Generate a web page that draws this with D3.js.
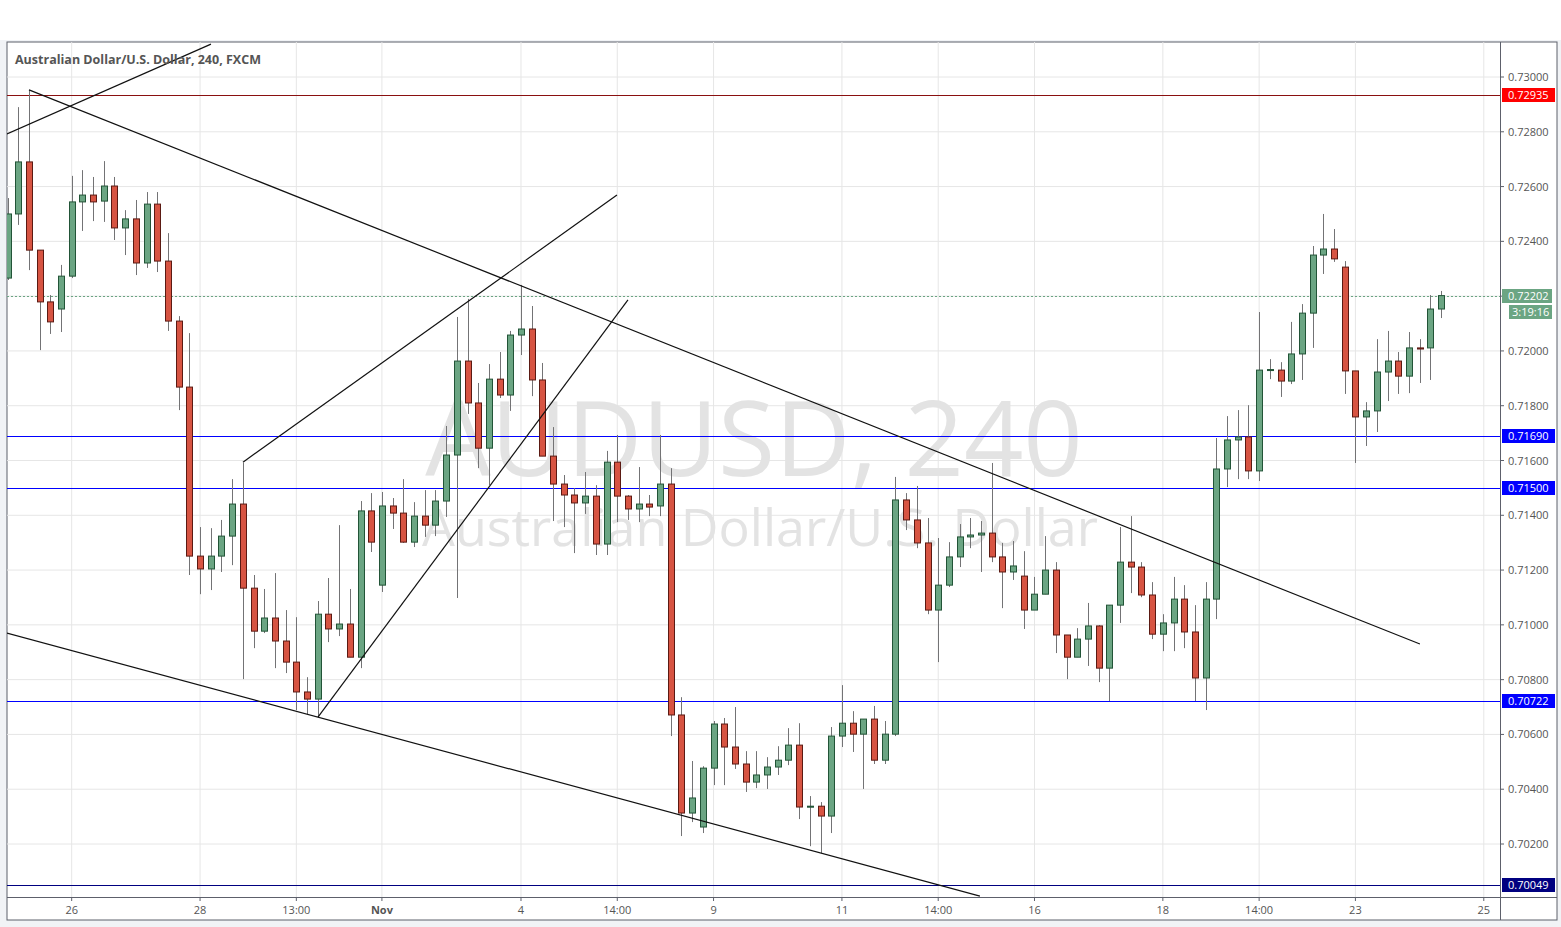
<!DOCTYPE html>
<html>
<head>
<meta charset="utf-8">
<script src="https://cdn.jsdelivr.net/npm/d3@7"></script>
<style>
  body { margin: 0; background: #f1f3f6; }
  svg { display: block; font-family: "Open Sans", "DejaVu Sans", sans-serif; }
</style>
</head>
<body>
<svg id="chart"></svg>
<script>
// 4h candles, [open, high, low, close]
const candles = [
  [0.72266, 0.72558, 0.72259, 0.72500], [0.72500, 0.72890, 0.72460, 0.72690],
  [0.72690, 0.72953, 0.72295, 0.72368], [0.72368, 0.72368, 0.72003, 0.72179],
  [0.72179, 0.72204, 0.72062, 0.72106], [0.72153, 0.72314, 0.72069, 0.72273],
  [0.72273, 0.72639, 0.72266, 0.72544], [0.72544, 0.72660, 0.72438, 0.72569],
  [0.72569, 0.72635, 0.72474, 0.72544], [0.72547, 0.72693, 0.72471, 0.72602],
  [0.72602, 0.72635, 0.72405, 0.72449], [0.72449, 0.72514, 0.72350, 0.72482],
  [0.72482, 0.72551, 0.72277, 0.72321], [0.72321, 0.72580, 0.72303, 0.72536],
  [0.72536, 0.72580, 0.72288, 0.72328], [0.72328, 0.72430, 0.72073, 0.72109],
  [0.72109, 0.72127, 0.71784, 0.71868], [0.71868, 0.72065, 0.71182, 0.71251],
  [0.71251, 0.71357, 0.71112, 0.71204], [0.71204, 0.71353, 0.71127, 0.71251],
  [0.71251, 0.71383, 0.71193, 0.71324], [0.71324, 0.71532, 0.71218, 0.71441],
  [0.71441, 0.71591, 0.70802, 0.71134], [0.71134, 0.71182, 0.70915, 0.70977],
  [0.70977, 0.71131, 0.70970, 0.71025], [0.71025, 0.71189, 0.70842, 0.70941],
  [0.70941, 0.71054, 0.70824, 0.70864], [0.70864, 0.71028, 0.70689, 0.70755],
  [0.70755, 0.70809, 0.70674, 0.70729], [0.70729, 0.71087, 0.70663, 0.71039],
  [0.71039, 0.71171, 0.70937, 0.70985], [0.70985, 0.71364, 0.70959, 0.71003],
  [0.71003, 0.71131, 0.70882, 0.70882], [0.70882, 0.71452, 0.70842, 0.71416],
  [0.71416, 0.71481, 0.71266, 0.71302], [0.71145, 0.71485, 0.71120, 0.71434],
  [0.71434, 0.71463, 0.71350, 0.71408], [0.71408, 0.71532, 0.71299, 0.71302],
  [0.71302, 0.71448, 0.71284, 0.71397], [0.71397, 0.71492, 0.71321, 0.71364],
  [0.71364, 0.71492, 0.71324, 0.71452], [0.71452, 0.71726, 0.71394, 0.71620],
  [0.71620, 0.72124, 0.71098, 0.71963], [0.71963, 0.72190, 0.71770, 0.71810],
  [0.71810, 0.71883, 0.71572, 0.71645], [0.71645, 0.71952, 0.71510, 0.71897],
  [0.71897, 0.71996, 0.71828, 0.71839], [0.71839, 0.72073, 0.71781, 0.72058],
  [0.72058, 0.72241, 0.71985, 0.72080], [0.72080, 0.72164, 0.71835, 0.71894],
  [0.71894, 0.71956, 0.71616, 0.71616], [0.71616, 0.71722, 0.71379, 0.71514],
  [0.71514, 0.71547, 0.71357, 0.71474], [0.71474, 0.71499, 0.71262, 0.71445],
  [0.71445, 0.71558, 0.71405, 0.71470], [0.71470, 0.71510, 0.71255, 0.71295],
  [0.71295, 0.71635, 0.71255, 0.71594], [0.71594, 0.71693, 0.71375, 0.71470],
  [0.71470, 0.71474, 0.71383, 0.71423], [0.71423, 0.71576, 0.71375, 0.71441],
  [0.71441, 0.71474, 0.71397, 0.71430], [0.71434, 0.71693, 0.71397, 0.71514],
  [0.71514, 0.71572, 0.70594, 0.70671], [0.70671, 0.70736, 0.70229, 0.70313],
  [0.70313, 0.70503, 0.70280, 0.70368], [0.70262, 0.70484, 0.70240, 0.70477],
  [0.70477, 0.70649, 0.70415, 0.70638], [0.70638, 0.70660, 0.70415, 0.70554],
  [0.70554, 0.70700, 0.70474, 0.70492], [0.70492, 0.70539, 0.70390, 0.70426],
  [0.70426, 0.70539, 0.70404, 0.70452], [0.70452, 0.70517, 0.70401, 0.70481],
  [0.70481, 0.70557, 0.70452, 0.70506], [0.70506, 0.70623, 0.70488, 0.70561],
  [0.70561, 0.70641, 0.70291, 0.70335], [0.70335, 0.70375, 0.70192, 0.70338],
  [0.70338, 0.70353, 0.70167, 0.70302], [0.70302, 0.70627, 0.70240, 0.70594],
  [0.70594, 0.70780, 0.70554, 0.70641], [0.70641, 0.70685, 0.70536, 0.70601],
  [0.70601, 0.70656, 0.70401, 0.70656], [0.70656, 0.70704, 0.70492, 0.70506],
  [0.70506, 0.70649, 0.70492, 0.70601], [0.70601, 0.71540, 0.70594, 0.71456],
  [0.71456, 0.71481, 0.71346, 0.71383], [0.71383, 0.71507, 0.71280, 0.71299],
  [0.71299, 0.71390, 0.71039, 0.71054], [0.71054, 0.71317, 0.70864, 0.71145],
  [0.71145, 0.71302, 0.71138, 0.71248], [0.71248, 0.71368, 0.71211, 0.71321],
  [0.71321, 0.71390, 0.71280, 0.71328], [0.71328, 0.71379, 0.71193, 0.71335],
  [0.71335, 0.71591, 0.71229, 0.71248], [0.71248, 0.71299, 0.71061, 0.71193],
  [0.71193, 0.71306, 0.71164, 0.71215], [0.71178, 0.71269, 0.70985, 0.71054],
  [0.71054, 0.71175, 0.71054, 0.71112], [0.71112, 0.71324, 0.71112, 0.71200],
  [0.71200, 0.71229, 0.70897, 0.70963], [0.70963, 0.70963, 0.70802, 0.70882],
  [0.70882, 0.70988, 0.70882, 0.70948], [0.70948, 0.71080, 0.70850, 0.70996],
  [0.70996, 0.70999, 0.70791, 0.70842], [0.70842, 0.71072, 0.70722, 0.71072],
  [0.71072, 0.71357, 0.71007, 0.71229], [0.71229, 0.71397, 0.71116, 0.71211],
  [0.71211, 0.71229, 0.71101, 0.71109], [0.71109, 0.71156, 0.70948, 0.70966],
  [0.70966, 0.71039, 0.70904, 0.71007], [0.71007, 0.71175, 0.70904, 0.71094],
  [0.71094, 0.71145, 0.70915, 0.70974], [0.70974, 0.71072, 0.70722, 0.70806],
  [0.70806, 0.71156, 0.70689, 0.71094], [0.71094, 0.71682, 0.71021, 0.71569],
  [0.71569, 0.71762, 0.71503, 0.71675], [0.71675, 0.71784, 0.71532, 0.71686],
  [0.71686, 0.71802, 0.71532, 0.71562], [0.71562, 0.72142, 0.71525, 0.71930],
  [0.71930, 0.71970, 0.71897, 0.71932], [0.71930, 0.71959, 0.71832, 0.71890],
  [0.71890, 0.72106, 0.71879, 0.71989], [0.71989, 0.72171, 0.71894, 0.72138],
  [0.72138, 0.72383, 0.72011, 0.72350], [0.72350, 0.72500, 0.72281, 0.72372],
  [0.72372, 0.72445, 0.72325, 0.72336], [0.72306, 0.72328, 0.71843, 0.71927],
  [0.71927, 0.71927, 0.71591, 0.71759], [0.71759, 0.71813, 0.71653, 0.71781],
  [0.71781, 0.72043, 0.71704, 0.71923], [0.71923, 0.72073, 0.71817, 0.71963],
  [0.71963, 0.71996, 0.71843, 0.71908], [0.71908, 0.72069, 0.71846, 0.72011],
  [0.72011, 0.72043, 0.71883, 0.72007], [0.72011, 0.72204, 0.71894, 0.72153],
  [0.72153, 0.72219, 0.72120, 0.72202]
]

// x-axis labels at candle index
const timeTicks = [
  { i: 6, label: '26' }, { i: 18, label: '28' }, { i: 27, label: '13:00' },
  { i: 35, label: 'Nov', bold: true }, { i: 48, label: '4' }, { i: 57, label: '14:00' },
  { i: 66, label: '9' }, { i: 78, label: '11' }, { i: 87, label: '14:00' },
  { i: 96, label: '16' }, { i: 108, label: '18' }, { i: 117, label: '14:00' },
  { i: 126, label: '23' }, { i: 138, label: '25' }
]

const priceTicks = d3.range(0.702, 0.7301, 0.002)

// horizontal levels
const levels = [
  { p: 0.72935, color: '#8a1010', box: '#ff0000' },
  { p: 0.71690, color: '#0000ff', box: '#0000ff' },
  { p: 0.71500, color: '#0000ff', box: '#0000ff' },
  { p: 0.70722, color: '#0000ff', box: '#0000ff' },
  { p: 0.70049, color: '#000080', box: '#000080' }
]

// trend lines: [index, price] pairs
const trendLines = [
  [[-0.05, 0.72792], [19.02, 0.73120]],
  [[2.01, 0.72953], [132.03, 0.70930]],
  [[-0.05, 0.70970], [90.9, 0.70010]],
  [[22.01, 0.71594], [56.97, 0.72569]],
  [[29.02, 0.70663], [58.0, 0.72186]]
]

const lastPrice = 0.72202
const countdown = '3:19:16'

const W = 1561, H = 927
const pL = 7, pR = 1500, pT = 42, pB = 897, outerR = 1557, outerB = 920

const svg = d3.select('#chart').attr('width', W).attr('height', H)

const x = d3.scaleLinear().domain([0, candles.length - 1]).range([7.5, 1441])
const y = d3.scaleLinear().domain([0.702, 0.730]).range([844, 77])

svg.append('rect').attr('x', 0).attr('y', 0).attr('width', W).attr('height', 40).attr('fill', '#fff')
svg.append('rect').attr('x', pL).attr('y', pT).attr('width', outerR - pL).attr('height', outerB - pT)
  .attr('fill', '#fff').attr('stroke', '#5d606b').attr('stroke-width', 1)

svg.append('defs').append('clipPath').attr('id', 'plot')
  .append('rect').attr('x', pL).attr('y', pT).attr('width', pR - pL).attr('height', pB - pT)

const plot = svg.append('g').attr('clip-path', 'url(#plot)')

// grid
plot.selectAll('.vgrid').data(timeTicks).enter().append('line')
  .attr('x1', d => x(d.i)).attr('x2', d => x(d.i)).attr('y1', pT).attr('y2', pB)
  .attr('stroke', '#e6e6e6')
plot.selectAll('.hgrid').data(priceTicks).enter().append('line')
  .attr('x1', pL).attr('x2', pR).attr('y1', d => y(d)).attr('y2', d => y(d))
  .attr('stroke', '#e6e6e6')

// watermark
plot.append('text').attr('x', 754).attr('y', 476).attr('text-anchor', 'middle')
  .attr('font-size', 104).attr('fill', '#e3e3e3').text('AUDUSD, 240')
plot.append('text').attr('x', 760).attr('y', 546).attr('text-anchor', 'middle')
  .attr('font-size', 52).attr('fill', '#e3e3e3').text('Australian Dollar/U.S. Dollar')

// levels
plot.selectAll('.level').data(levels).enter().append('line')
  .attr('x1', pL).attr('x2', pR).attr('y1', d => Math.round(y(d.p)) + 0.5).attr('y2', d => Math.round(y(d.p)) + 0.5)
  .attr('stroke', d => d.color).attr('stroke-width', 1).attr('shape-rendering', 'crispEdges')

plot.append('line').attr('x1', pL).attr('x2', pR)
  .attr('y1', Math.round(y(lastPrice)) + 0.5).attr('y2', Math.round(y(lastPrice)) + 0.5)
  .attr('stroke', '#6ba583').attr('stroke-dasharray', '2,2')

// candles
const bw = 6
const g = plot.selectAll('.candle').data(candles).enter().append('g')
g.append('line')
  .attr('x1', (d, i) => Math.round(x(i)) + 0.5).attr('x2', (d, i) => Math.round(x(i)) + 0.5)
  .attr('y1', d => y(d[1])).attr('y2', d => y(d[2]))
  .attr('stroke', '#737375')
g.append('rect')
  .attr('x', (d, i) => Math.round(x(i)) - bw / 2 + 0.5)
  .attr('y', d => y(Math.max(d[0], d[3])))
  .attr('width', bw)
  .attr('height', d => Math.max(1, Math.abs(y(d[0]) - y(d[3]))))
  .attr('fill', d => d[3] >= d[0] ? '#6ba583' : '#d75442')
  .attr('stroke', d => d[3] >= d[0] ? '#225437' : '#5b1a13')

// trend lines
plot.selectAll('.trend').data(trendLines).enter().append('line')
  .attr('x1', d => x(d[0][0])).attr('y1', d => y(d[0][1]))
  .attr('x2', d => x(d[1][0])).attr('y2', d => y(d[1][1]))
  .attr('stroke', '#111').attr('stroke-width', 1.2)

// axes frame
svg.append('line').attr('x1', pR + 0.5).attr('x2', pR + 0.5).attr('y1', pT).attr('y2', outerB).attr('stroke', '#5d606b')
svg.append('line').attr('x1', pL).attr('x2', outerR).attr('y1', pB + 0.5).attr('y2', pB + 0.5).attr('stroke', '#5d606b')

// price axis
const yAxis = svg.append('g')
priceTicks.forEach(p => {
  yAxis.append('line').attr('x1', pR).attr('x2', pR + 4).attr('y1', y(p)).attr('y2', y(p)).attr('stroke', '#5d606b')
  yAxis.append('text').attr('x', pR + 8).attr('y', y(p) + 4).attr('font-size', 11).attr('fill', '#555')
    .text(p.toFixed(5))
})
levels.forEach(l => {
  const yy = Math.round(y(l.p))
  yAxis.append('rect').attr('x', pR + 2).attr('y', yy - 7).attr('width', 53).attr('height', 14).attr('fill', l.box)
  yAxis.append('text').attr('x', pR + 8).attr('y', yy + 4).attr('font-size', 11).attr('fill', '#fff').text(l.p.toFixed(5))
})
const ly = Math.round(y(lastPrice))
yAxis.append('rect').attr('x', pR + 2).attr('y', ly - 7).attr('width', 50).attr('height', 14).attr('fill', '#6ba583')
yAxis.append('text').attr('x', pR + 8).attr('y', ly + 4).attr('font-size', 11).attr('fill', '#fff').text(lastPrice.toFixed(5))
yAxis.append('rect').attr('x', pR + 9).attr('y', ly + 9).attr('width', 43).attr('height', 14).attr('fill', '#6ba583')
yAxis.append('text').attr('x', pR + 12).attr('y', ly + 20).attr('font-size', 11).attr('fill', '#fff').text(countdown)

// time axis
timeTicks.forEach(t => {
  svg.append('line').attr('x1', x(t.i)).attr('x2', x(t.i)).attr('y1', pB).attr('y2', pB + 4).attr('stroke', '#5d606b')
  svg.append('text').attr('x', x(t.i)).attr('y', pB + 17).attr('text-anchor', 'middle')
    .attr('font-size', 11).attr('fill', '#555').attr('font-weight', t.bold ? 'bold' : 'normal')
    .text(t.label)
})

svg.append('text').attr('x', 15).attr('y', 64).attr('font-size', 12.5).attr('font-weight', 'bold')
  .attr('fill', '#555').text('Australian Dollar/U.S. Dollar, 240, FXCM')
</script>
</body>
</html>
